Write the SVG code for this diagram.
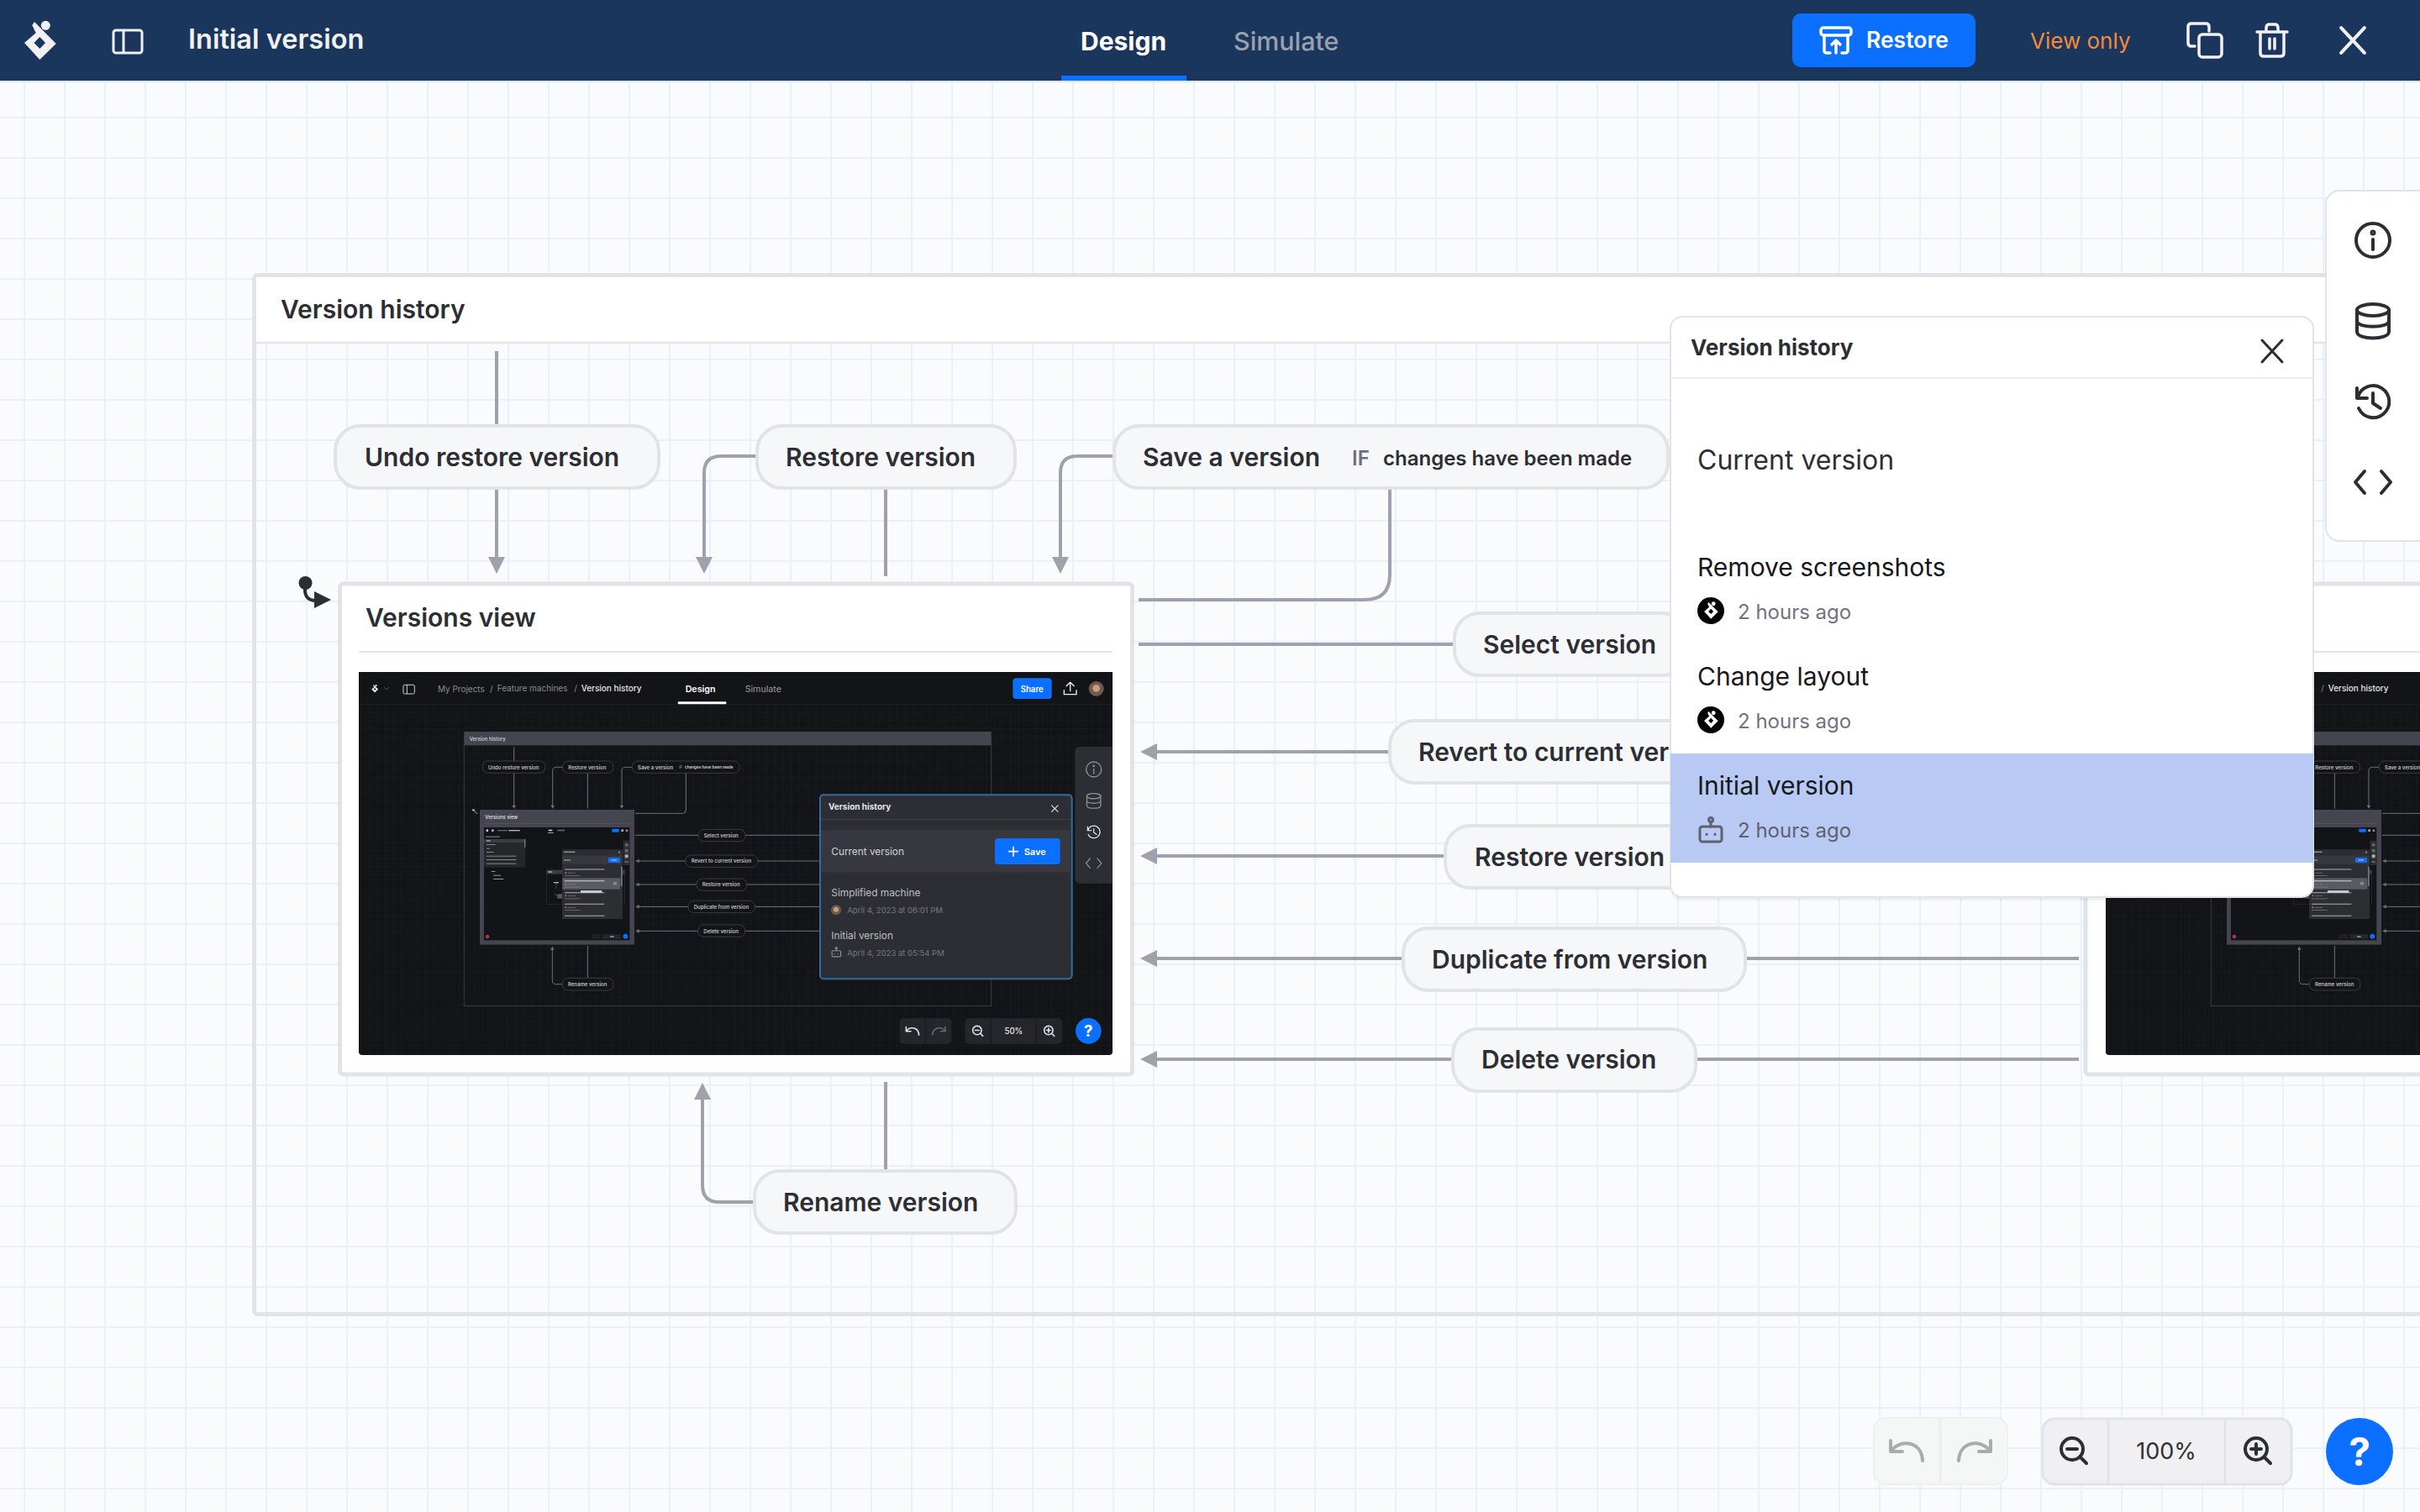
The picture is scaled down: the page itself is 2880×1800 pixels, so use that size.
<svg xmlns="http://www.w3.org/2000/svg" xmlns:xlink="http://www.w3.org/1999/xlink" width="2880" height="1800" viewBox="0 0 2880 1800">
<style>
text{font-family:Inter,"Noto Sans",sans-serif;}
.node{fill:#f6f7f9;stroke:#e2e3e7;stroke-width:4;}
.nt{font-size:30px;font-weight:600;fill:#2d2e34;}
.conn{fill:none;stroke:#a1a1ae;stroke-width:4;}
.ah{fill:#a1a1ae;}
.ic{fill:none;stroke-linecap:round;stroke-linejoin:round;}
.mnode{fill:#131417;stroke:#3a3b44;stroke-width:3;}
.mt{font-size:18.2px;font-weight:500;fill:#d4d4da;}
.mc{fill:none;stroke:#70717c;stroke-width:3;}
.mah{fill:#70717c;}
.hv{font-size:30px;fill:#17181c;}
.ago{font-size:24px;fill:#717182;}
.b{fill:#55565f;}
</style>
<defs>
<pattern id="grid" width="48" height="48" patternUnits="userSpaceOnUse" x="28" y="139"><rect width="48" height="48" fill="#fafbfd"/><path d="M1 0V48M0 1H48" stroke="#e7f0fc" stroke-width="2" fill="none"/></pattern>
<pattern id="dgrid" width="29" height="29" patternUnits="userSpaceOnUse"><rect width="29" height="29" fill="#131417"/><path d="M.5 0V29M0 .5H29" stroke="#1c1d21" stroke-width="1.5" fill="none"/></pattern>
<g id="logo"><path fill-rule="evenodd" d="M-6 -23L19.700 3L.3 22L-18 2L-4.300 -9.700L-8.700 -19ZM.3 -5L7 2L.3 9L-6.500 2Z"/><circle cx="7.300" cy="-18.700" r="5.500"/></g>
<g id="i-info" class="ic"><circle r="20"/><path d="M0 -1V11"/><circle cy="-9" r="1.500"/></g>
<g id="i-db" class="ic"><ellipse cy="-13" rx="19" ry="7"/><path d="M-19 -13V13C-19 23 19 23 19 13V-13M-19 0C-19 9 19 9 19 0"/></g>
<g id="i-hist" class="ic"><path d="M-19 -16V-4H-7M-18 -5A19 19 0 1 1 -17 8M0 -10V2L9 8"/></g>
<g id="i-code" class="ic"><path d="M-10 -13L-21 0L-10 13M10 -13L21 0L10 13"/></g>
<g id="i-robot" class="ic"><rect x="-13" y="-4" width="26" height="18" rx="3"/><path d="M0 -4V-10"/><circle cy="-12" r="2.500"/><path d="M-5 5V5.500M5 5V5.500"/></g>
<g id="i-close" class="ic"><path d="M-12 -13L12 13M12 -13L-12 13"/></g>
<g id="i-undo" class="ic"><path d="M-19 -12V1H-5M-18 0C-8 -14 18 -12 19 12"/></g>
<g id="i-zm" class="ic"><circle cx="-2" cy="-2" r="13"/><path d="M8 8L15 15M-8 -2H4"/></g>
<g id="i-zp" class="ic"><circle cx="-2" cy="-2" r="13"/><path d="M8 8L15 15M-8 -2H4M-2 -8V4"/></g>
<clipPath id="shotclip"><path d="M81 60H2772V1416Q2772 1428 2760 1428H93Q81 1428 81 1416Z"/></clipPath>
<g id="shot" transform="translate(400 780) scale(.33333)">
<g clip-path="url(#shotclip)">
<rect x="81" y="60" width="2691" height="1368" fill="url(#dgrid)"/>
<rect x="81" y="60" width="2691" height="115" fill="#131417"/>
<path d="M81 176H2772" stroke="#26272c" stroke-width="2"/>
<use href="#logo" transform="translate(138 120) scale(.62)" fill="#f0f0f2"/>
<path d="M172 115l8 8 8-8" fill="none" stroke="#777" stroke-width="2"/>
<g fill="none" stroke="#d0d0d5" stroke-width="3"><rect x="240" y="106" width="40" height="32" rx="5"/><path d="M253 106V138"/></g>
<text x="363" y="132" font-size="30" fill="#8a8b95">My Projects</text><text x="549" y="132" font-size="30" fill="#8a8b95">/</text>
<text x="575" y="130" font-size="30" fill="#8a8b95">Feature machines</text><text x="850" y="130" font-size="30" fill="#8a8b95">/</text>
<text x="875" y="130" font-size="30" font-weight="500" fill="#e6e6ea">Version history</text>
<text x="1247" y="132" font-size="32" font-weight="600" fill="#fff">Design</text>
<rect x="1220" y="166" width="173" height="9" rx="3" fill="#fff"/>
<text x="1460" y="132" font-size="32" fill="#9c9da6">Simulate</text>
<rect x="2416" y="82" width="139" height="74" rx="12" fill="#0b6fff"/><text x="2444" y="132" font-size="29" font-weight="600" fill="#fff">Share</text>
<g class="ic" stroke="#f0f0f2" stroke-width="4"><path d="M0 -23V8M-14 -10L0 -23L14 -10M-22 5V20H22V5" transform="translate(2621 120)"/></g>
<circle cx="2714" cy="120" r="27" fill="#6d5a48"/><circle cx="2714" cy="118" r="13" fill="#c99d7d"/>
<!-- level 2 frame -->
<rect x="457" y="290" width="1882" height="963" fill="none" stroke="#3a3b44" stroke-width="3"/>
<rect x="457" y="273" width="1882" height="49" fill="#44454f"/>
<text x="476" y="305" font-size="18" font-weight="500" fill="#d4d4da">Version history</text>
<!-- level 2 connectors -->
<g class="mc">
<path d="M635 328V378M635 421V538M809 400H786Q773 400 773 413V538M898 421V548M1057 400H1033Q1020 400 1020 413V538M1249 421V553Q1249 565 1237 565H1068M1068 643H1725M1070 735H1725M1070 819H1725M1070 898H1725M1070 985H1725M898 1038V1153M808 1175H785Q772 1175 772 1162V1050"/>
</g>
<g class="mah"><path d="M628 536h14l-7 12zM766 536h14l-7 12zM1013 536h14l-7 12zM765 1052h14l-7 -12zM1082 728v14l-12 -7zM1082 812v14l-12 -7zM1082 891v14l-12 -7zM1082 978v14l-12 -7z"/></g>
<g><rect class="mnode" x="523" y="378" width="224" height="43" rx="20"/><text class="mt" x="543" y="407">Undo restore version</text>
<rect class="mnode" x="809" y="378" width="180" height="43" rx="20"/><text class="mt" x="829" y="407">Restore version</text>
<rect class="mnode" x="1057" y="378" width="384" height="43" rx="20"/><text class="mt" x="1077" y="407">Save a version</text><text x="1225" y="405" font-size="13" font-weight="600" fill="#8a8b95">IF</text><text x="1245" y="405" font-size="14" font-weight="600" fill="#d4d4da">changes have been made</text>
<rect class="mnode" x="1293" y="622" width="168" height="43" rx="20"/><text class="mt" x="1313" y="650">Select version</text>
<rect class="mnode" x="1248" y="714" width="257" height="43" rx="20"/><text class="mt" x="1268" y="742">Revert to current version</text>
<rect class="mnode" x="1287" y="798" width="179" height="43" rx="20"/><text class="mt" x="1307" y="826">Restore version</text>
<rect class="mnode" x="1257" y="877" width="238" height="43" rx="20"/><text class="mt" x="1277" y="905">Duplicate from version</text>
<rect class="mnode" x="1292" y="963" width="168" height="43" rx="20"/><text class="mt" x="1312" y="992">Delete version</text>
<rect class="mnode" x="808" y="1153" width="182" height="44" rx="20"/><text class="mt" x="828" y="1182">Rename version</text></g>
<!-- level 2 view -->
<path d="M495 553q-2 10 10 12" fill="none" stroke="#aaa" stroke-width="3"/><circle cx="490" cy="553" r="4" fill="#aaa"/>
<rect x="513" y="552" width="552" height="482" fill="#44454f"/>
<text x="532" y="584" font-size="17.500" font-weight="500" fill="#e6e6ea">Versions view</text>
<path d="M528 601H1050" stroke="#5a5b65" stroke-width="2"/>
<rect x="528" y="615" width="520" height="403" fill="#131417"/>
<g class="b">
<rect x="536" y="622" width="7" height="8" fill="#ccc"/><rect x="555" y="622" width="8" height="8" fill="#aaa"/><rect x="576" y="624" width="36" height="4" fill="#666"/><rect x="616" y="624" width="40" height="4" fill="#bbb"/><rect x="758" y="623" width="14" height="5" fill="#ccc"/><rect x="756" y="634" width="20" height="2" fill="#eee"/><rect x="790" y="623" width="26" height="5" fill="#666"/>
<rect x="985" y="620" width="25" height="12" rx="2" fill="#0b6fff"/><rect x="1018" y="622" width="8" height="8" fill="#aaa"/><circle cx="1038" cy="626" r="4.500" fill="#c86f50"/>
<rect x="528" y="656" width="148" height="102" fill="#26272b"/><rect x="528" y="657" width="148" height="12" fill="#3c3d44"/><rect x="672" y="657" width="4" height="30" fill="#77787f"/>
<rect x="534" y="646" width="50" height="5" fill="#5f6069"/><rect x="537" y="661" width="14" height="4" fill="#aaa"/><rect x="537" y="675" width="32" height="3" fill="#888"/><rect x="537" y="689" width="12" height="3" fill="#888"/><rect x="537" y="702" width="26" height="3" fill="#888"/><rect x="537" y="716" width="106" height="3" fill="#888"/><rect x="537" y="729" width="106" height="3" fill="#888"/><rect x="537" y="743" width="106" height="3" fill="#888"/>
<rect x="554" y="771" width="14" height="3" fill="#999"/><rect x="562" y="785" width="26" height="3" fill="#999"/><rect x="562" y="798" width="36" height="3" fill="#999"/>
<rect x="751" y="768" width="280" height="122" fill="none" stroke="#2d2e33" stroke-width="2"/><rect x="751" y="767" width="280" height="15" fill="#3a3b42"/><rect x="757" y="772" width="15" height="4" fill="#bbb"/>
<rect x="777" y="810" width="18" height="4" fill="#bbb"/><rect x="790" y="853" width="18" height="16" fill="#55565f"/>
<path d="M781 850q2 10 10 10M786 814v20" stroke="#777" fill="none" stroke-width="1.500"/>
<rect x="1025" y="662" width="23" height="88" rx="3" fill="#2d2e34"/><rect x="1031" y="672" width="12" height="11" rx="5" fill="#666"/><rect x="1031" y="692" width="12" height="12" rx="3" fill="#666"/><rect x="1031" y="712" width="12" height="12" rx="3" fill="#aaa"/><rect x="1031" y="735" width="12" height="6" fill="#666"/>
<rect x="807" y="694" width="216" height="248" fill="#2d2e34"/><rect x="807" y="716" width="216" height="30" fill="#37383f"/><rect x="813" y="701" width="40" height="4" fill="#999"/><rect x="1008" y="701" width="6" height="6" fill="#888"/><rect x="813" y="730" width="24" height="4" fill="#999"/><rect x="972" y="723" width="42" height="18" rx="2" fill="#0b6fff"/><rect x="982" y="730" width="20" height="4" fill="#9cc3ff"/>
<rect x="808" y="796" width="207" height="40" fill="#595a63"/><rect x="1017" y="755" width="5" height="70" fill="#77787f"/>
<rect x="816" y="763" width="142" height="4" fill="#8d8e96"/><circle cx="820" cy="777" r="3" fill="#c86f50"/><rect x="827" y="776" width="28" height="3" fill="#666"/><rect x="816" y="786" width="56" height="3" fill="#666"/>
<rect x="816" y="804" width="142" height="4" fill="#b5b6bd"/><circle cx="820" cy="818" r="3" fill="#c86f50"/><rect x="827" y="817" width="28" height="3" fill="#777"/><rect x="816" y="827" width="56" height="3" fill="#777"/><rect x="990" y="810" width="12" height="10" fill="#88898f"/>
<rect x="816" y="846" width="142" height="4" fill="#8d8e96"/><rect x="873" y="840" width="76" height="9" fill="#c7c8cd"/><circle cx="820" cy="859" r="3" fill="#c86f50"/><rect x="827" y="858" width="28" height="3" fill="#666"/><rect x="816" y="868" width="56" height="3" fill="#666"/>
<rect x="816" y="887" width="142" height="4" fill="#8d8e96"/><circle cx="820" cy="901" r="3" fill="#c86f50"/><rect x="827" y="900" width="28" height="3" fill="#666"/><rect x="816" y="909" width="56" height="3" fill="#666"/>
<rect x="816" y="929" width="142" height="4" fill="#8d8e96"/>
<circle cx="540" cy="1005" r="7" fill="#b6324a"/>
<rect x="912" y="997" width="34" height="16" rx="2" fill="#1f2024"/><rect x="952" y="997" width="65" height="16" rx="2" fill="#26272b"/><rect x="978" y="1003" width="14" height="4" fill="#aaa"/><circle cx="1033" cy="1004" r="8.500" fill="#0b6fff"/>
</g>
<!-- level 2 overlay: coordinates of the right half -->
<g transform="translate(1440 0)">
<rect x="1198" y="327" width="160" height="488" rx="16" fill="#2d2e34"/>
<g color="#8d8e96" stroke="#8d8e96" fill="none" stroke-width="3">
<use href="#i-info" transform="translate(1265 408) scale(1.350)"/><use href="#i-db" transform="translate(1265 520) scale(1.300)"/><use href="#i-hist" stroke="#f0f0f2" transform="translate(1265 631) scale(1.150)"/><use href="#i-code" transform="translate(1265 743) scale(1.300)"/>
</g>
<rect x="288" y="499" width="899" height="657" rx="12" fill="#2d2e34" stroke="#2d6da3" stroke-width="6"/>
<text x="318" y="553" font-size="30" font-weight="700" fill="#e4e4e8">Version history</text>
<path d="M1114 536L1138 560M1138 536L1114 560" stroke="#e4e4e8" stroke-width="3.500" fill="none"/>
<path d="M291 586H1184" stroke="#4d4e55" stroke-width="2"/>
<rect x="291" y="625" width="893" height="151" fill="#37383f"/>
<text x="328" y="713" font-size="35.500" fill="#d0d0d5">Current version</text>
<rect x="912" y="654" width="233" height="93" rx="12" fill="#0b6fff"/>
<path d="M978 683V719M960 701H996" stroke="#fff" stroke-width="5"/>
<text x="1016" y="714" font-size="33" font-weight="600" fill="#fff">Save</text>
<text x="328" y="860" font-size="35.500" fill="#bdbec4">Simplified machine</text>
<circle cx="345" cy="910" r="18" fill="#6d5a48"/><circle cx="345" cy="908" r="9" fill="#c99d7d"/>
<text x="385" y="921" font-size="28.500" fill="#767782">April 4, 2023 at 06:01 PM</text>
<text x="328" y="1013" font-size="35.500" fill="#bdbec4">Initial version</text>
<use href="#i-robot" transform="translate(346 1060) scale(1.200)" stroke="#8d8e96" stroke-width="3"/>
<text x="385" y="1073" font-size="28.500" fill="#767782">April 4, 2023 at 05:54 PM</text>
<rect x="572" y="1297" width="185" height="91" rx="14" fill="#25262b"/><path d="M665 1297V1388" stroke="#131417" stroke-width="2"/>
<use href="#i-undo" transform="translate(618 1342) scale(1.200)" stroke="#e4e4e8" stroke-width="4"/>
<use href="#i-undo" transform="translate(712 1342) scale(-1.200 1.200)" stroke="#66676f" stroke-width="4"/>
<rect x="805" y="1297" width="348" height="91" rx="14" fill="#25262b"/><path d="M898 1297V1388M1060 1297V1388" stroke="#131417" stroke-width="2"/>
<use href="#i-zm" transform="translate(851 1342) scale(1.200)" stroke="#e4e4e8" stroke-width="4"/>
<text x="979" y="1353" font-size="29" font-weight="500" fill="#e4e4e8" text-anchor="middle">50%</text>
<use href="#i-zp" transform="translate(1106 1342) scale(1.200)" stroke="#e4e4e8" stroke-width="4"/>
<circle cx="1246" cy="1342" r="46" fill="#0b6fff"/>
<text x="1246" y="1362" font-size="56" font-weight="700" fill="#fff" text-anchor="middle">?</text>
</g>
</g>
</g>
</defs>

<rect width="2880" height="1800" fill="url(#grid)"/>

<g id="frame-version-history">
<rect x="302.500" y="327.500" width="2700" height="1237" rx="4" fill="none" stroke="#e2e3e7" stroke-width="5"/>
<rect x="305" y="330" width="2700" height="77" fill="#fff"/>
<path d="M305 408H2880" stroke="#e4e5e8" stroke-width="2.500"/>
<text x="334" y="379" font-size="30" font-weight="600" fill="#2d2e34">Version history</text>
</g>

<g id="connectors">
<path class="conn" stroke-width="3" d="M591 418V505M591 582V670"/>
<path class="conn" d="M900 543H858Q838 543 838 563V670M1054 582V686M1324 543H1282Q1262 543 1262 563V670M1654 582V684Q1654 714 1624 714H1355M1355 767H2460M1374 895H2474M1374 1019H2474M1374 1141H2474M1374 1261H2474M1054 1288V1394M896 1431H856Q836 1431 836 1411V1306"/>
<path class="ah" d="M581 663h20l-10 20zM828 663h20l-10 20zM1252 663h20l-10 20zM826 1309h20l-10 -20zM1377 885v20l-20 -10zM1377 1009v20l-20 -10zM1377 1131v20l-20 -10zM1377 1251v20l-20 -10zM2460 757v20l20 -10z"/>
<path d="M363 700Q362 715 376 715" fill="none" stroke="#2d2e34" stroke-width="4"/><circle cx="363.500" cy="694" r="8" fill="#2d2e34"/><path d="M374 704L394 714L374 724Z" fill="#2d2e34"/>
</g>

<g id="node-undo"><rect class="node" x="399" y="507" width="385" height="74" rx="30"/><text class="nt" x="434" y="555">Undo restore version</text></g>
<g id="node-restore-top"><rect class="node" x="901" y="507" width="307" height="74" rx="30"/><text class="nt" x="935" y="555">Restore version</text></g>
<g id="node-save"><rect class="node" x="1326" y="507" width="659" height="74" rx="30"/><text class="nt" x="1360" y="555">Save a version</text><text x="1609" y="554" font-size="24" font-weight="600" fill="#6e6e7e">IF</text><text x="1646" y="554" font-size="24" font-weight="600" fill="#2d2e34">changes have been made</text></g>
<g id="node-select"><rect class="node" x="1731" y="730" width="277" height="74" rx="30"/><text class="nt" x="1765" y="778">Select version</text></g>
<g id="node-revert"><rect class="node" x="1654" y="858" width="430" height="74" rx="30"/><text class="nt" x="1688" y="906">Revert to current version</text></g>
<g id="node-restore"><rect class="node" x="1720" y="983" width="307" height="74" rx="30"/><text class="nt" x="1755" y="1031">Restore version</text></g>
<g id="node-duplicate"><rect class="node" x="1670" y="1105" width="407" height="74" rx="30"/><text class="nt" x="1704" y="1153">Duplicate from version</text></g>
<g id="node-delete"><rect class="node" x="1729" y="1225" width="289" height="74" rx="30"/><text class="nt" x="1763" y="1272">Delete version</text></g>
<g id="node-rename"><rect class="node" x="898" y="1394" width="311" height="74" rx="30"/><text class="nt" x="932" y="1442">Rename version</text></g>

<g id="node-versions-view">
<rect x="404.500" y="695" width="943" height="584" rx="4" fill="#fff" stroke="#e2e3e7" stroke-width="5"/>
<text x="435" y="746" font-size="30" font-weight="600" fill="#2d2e34">Versions view</text>
<path d="M427 776H1324" stroke="#e4e5e8" stroke-width="2"/>
<use href="#shot"/>
</g>
<g id="node-versions-view-2">
<rect x="2482" y="695" width="943" height="584" rx="4" fill="#fff" stroke="#e2e3e7" stroke-width="5"/>
<text x="2514" y="746" font-size="30" font-weight="600" fill="#2d2e34">Versions view</text>
<path d="M2506 776H3403" stroke="#e4e5e8" stroke-width="2"/>
<use href="#shot" x="2079"/>
</g>

<g id="top-bar">
<rect width="2880" height="96" fill="#1b365d"/>
<path d="M0 97H2880" stroke="#dfe3ea" stroke-width="2"/>
<use href="#logo" transform="translate(47 49)" fill="#f1f1f4"/>
<g fill="none" stroke="#f1f1f4" stroke-width="3"><rect x="135" y="36" width="34" height="27" rx="3"/><path d="M147 36V63"/></g>
<text x="224" y="58" font-size="32.500" font-weight="600" fill="#f1f1f4">Initial version</text>
<text x="1286" y="60" font-size="30" font-weight="700" fill="#fff">Design</text>
<rect x="1263" y="90" width="149" height="6" fill="#0b6fff"/>
<text x="1468" y="60" font-size="30.400" font-weight="500" fill="#9aa0ae">Simulate</text>
<rect x="2133" y="16" width="218" height="64" rx="10" fill="#0b6fff"/>
<g class="ic" stroke="#fff" stroke-width="3.500" transform="translate(2185 48)"><rect x="-18" y="-15" width="36" height="9" rx="3"/><path d="M-14 -6V12Q-14 15 -11 15H-7M7 15H11Q14 15 14 12V-6M0 15V0M-5 5L0 0L5 5"/></g>
<text x="2221" y="57" font-size="26.500" font-weight="600" fill="#fff">Restore</text>
<text x="2416" y="58" font-size="26" fill="#f38b3c">View only</text>
<g class="ic" stroke="#f1f1f4" stroke-width="3.500" transform="translate(2624 48)"><path d="M-12 7H-16Q-20 7 -20 3V-16Q-20 -20 -16 -20H1Q5 -20 5 -16V-11"/><rect x="-7" y="-7" width="27" height="27" rx="4"/></g>
<g class="ic" stroke="#f1f1f4" stroke-width="3.500" transform="translate(2704 48)"><path d="M-18 -10H18M-7 -11V-15Q-7 -19 -3 -19H3Q7 -19 7 -15V-11M-14 -10V15Q-14 19 -10 19H10Q14 19 14 15V-10M-3 -2V10M3 -2V10"/></g>
<use href="#i-close" transform="translate(2800 48) scale(1.150)" stroke="#f1f1f4" stroke-width="3.500"/>
</g>

<g id="side-toolbar">
<rect x="2768" y="227" width="140" height="417" rx="16" fill="#fff" stroke="#e2e3e7" stroke-width="2"/>
<g stroke="#2d2e34" fill="none" stroke-width="4">
<use href="#i-info" transform="translate(2824 286)"/><use href="#i-db" transform="translate(2824 382)"/><use href="#i-hist" transform="translate(2824 478)"/><use href="#i-code" transform="translate(2824 574)"/>
</g>
</g>

<g id="version-panel">
<rect x="1988" y="377" width="765" height="691" rx="14" fill="#000" opacity=".05" transform="translate(0 4)"/>
<rect x="1988" y="377" width="765" height="691" rx="14" fill="#fff" stroke="#e2e3e7" stroke-width="2"/>
<text x="2012" y="423" font-size="26" font-weight="700" fill="#2d2e34">Version history</text>
<use href="#i-close" transform="translate(2704 418)" stroke="#2d2e34" stroke-width="3"/>
<path d="M1989 450H2752" stroke="#eeeef0" stroke-width="2"/>
<text x="2020" y="559" font-size="32" fill="#2d2e34">Current version</text>
<text class="hv" x="2020" y="686">Remove screenshots</text>
<circle cx="2036" cy="727" r="16" fill="#000"/><use href="#logo" transform="translate(2036 727) scale(.44)" fill="#fff"/>
<text class="ago" x="2068" y="737">2 hours ago</text>
<text class="hv" x="2020" y="816">Change layout</text>
<circle cx="2036" cy="857" r="16" fill="#000"/><use href="#logo" transform="translate(2036 857) scale(.44)" fill="#fff"/>
<text class="ago" x="2068" y="867">2 hours ago</text>
<rect x="1988" y="897" width="765" height="130" fill="#b8caf3"/>
<text class="hv" x="2020" y="946">Initial version</text>
<use href="#i-robot" transform="translate(2036 988)" stroke="#5f6070" stroke-width="3"/>
<text class="ago" x="2068" y="997" style="fill:#5f6070">2 hours ago</text>
</g>

<g id="undo-redo">
<rect x="2230" y="1688" width="159" height="79" rx="14" fill="#f5f6f6" stroke="#eeefef" stroke-width="2"/>
<path d="M2309 1689V1766" stroke="#eeefef" stroke-width="3"/>
<use href="#i-undo" transform="translate(2269 1727)" stroke="#aaabae" stroke-width="4"/>
<use href="#i-undo" transform="translate(2350 1727) scale(-1 1)" stroke="#aaabae" stroke-width="4"/>
</g>
<g id="zoom-controls">
<rect x="2431" y="1689" width="296" height="78" rx="14" fill="#f0f0f2" stroke="#e2e3e7" stroke-width="3"/>
<path d="M2509 1690V1766M2648 1690V1766" stroke="#e2e3e7" stroke-width="3"/>
<use href="#i-zm" transform="translate(2468 1727)" stroke="#2d2e34" stroke-width="4"/>
<text x="2578" y="1737" font-size="27" font-weight="400" fill="#2d2e34" text-anchor="middle">100%</text>
<use href="#i-zp" transform="translate(2687 1727)" stroke="#2d2e34" stroke-width="4"/>
</g>
<g id="help"><circle cx="2808" cy="1728" r="40" fill="#0b6fff"/><text x="2808" y="1745" font-size="46" font-weight="700" fill="#fff" text-anchor="middle">?</text></g>
</svg>
